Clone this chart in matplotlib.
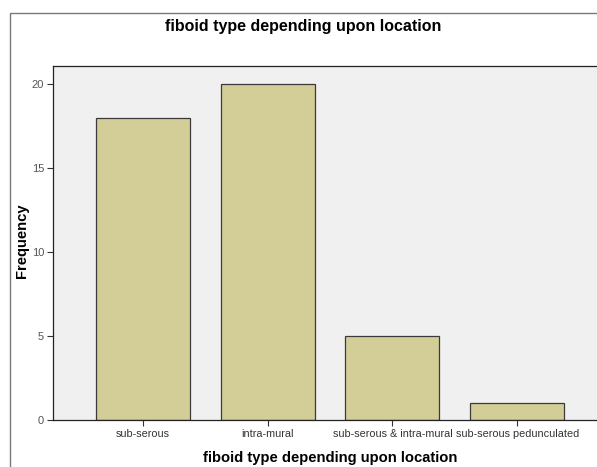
import matplotlib.pyplot as plt
from matplotlib.patches import Rectangle

categories = ["sub-serous", "intra-mural", "sub-serous & intra-mural", "sub-serous pedunculated"]
frequency = [18, 20, 5, 1]
y_ticks = [0, 5, 10, 15, 20]

W, H = 597, 467
fig = plt.figure(figsize=(W / 100, H / 100), dpi=100)
plt.rcParams['font.family'] = ['Liberation Sans', 'DejaVu Sans']

# outer chart frame (cropped on the right)
fig.patches.append(Rectangle((10 / W, -0.05), 1.2, (H - 13) / H + 0.05,
                             transform=fig.transFigure, fill=False,
                             edgecolor="#7a7a7a", linewidth=1.0))

# plot area runs past the right edge of the image
left, right, top, bottom = 53, 607, 66, 420
ax = fig.add_axes([left / W, (H - bottom) / H, (right - left) / W, (bottom - top) / H])
ax.set_facecolor("#f0f0f0")

x = range(len(categories))
ax.bar(x, frequency, width=0.755, color="#d3ce97", edgecolor="#3a3a3a", linewidth=0.9)

ax.set_xlim(-0.72, len(categories) - 1 + 0.72)
ax.set_ylim(0, 21.07)
ax.set_xticks(list(x))
ax.set_xticklabels(categories, fontsize=7.8, color="#333333")
ax.set_yticks(y_ticks)
ax.set_yticklabels([str(v) for v in y_ticks], fontsize=8, color="#555555")
ax.tick_params(axis="both", direction="out", length=4.5, width=0.8, color="#333333", pad=2)

for s in ["top", "left", "bottom"]:
    ax.spines[s].set_color("#222222")
    ax.spines[s].set_linewidth(0.9)
ax.spines["right"].set_visible(False)

ax.set_xlabel("fiboid type depending upon location", fontsize=10.6, fontweight="bold")
ax.xaxis.set_label_coords((330 - left) / (right - left), -(458 - bottom) / (bottom - top), transform=ax.transAxes)
ax.xaxis.label.set_va("center")
ax.set_ylabel("Frequency", fontsize=10.6, fontweight="bold")
ax.yaxis.set_label_coords(-(left - 22) / (right - left), (bottom - 241) / (bottom - top), transform=ax.transAxes)
ax.yaxis.label.set_va("center")

fig.text(303 / W, 1 - 27 / H, "fiboid type depending upon location",
         ha="center", va="center", fontsize=11.5, fontweight="bold")

fig.savefig("out.png", dpi=100)
